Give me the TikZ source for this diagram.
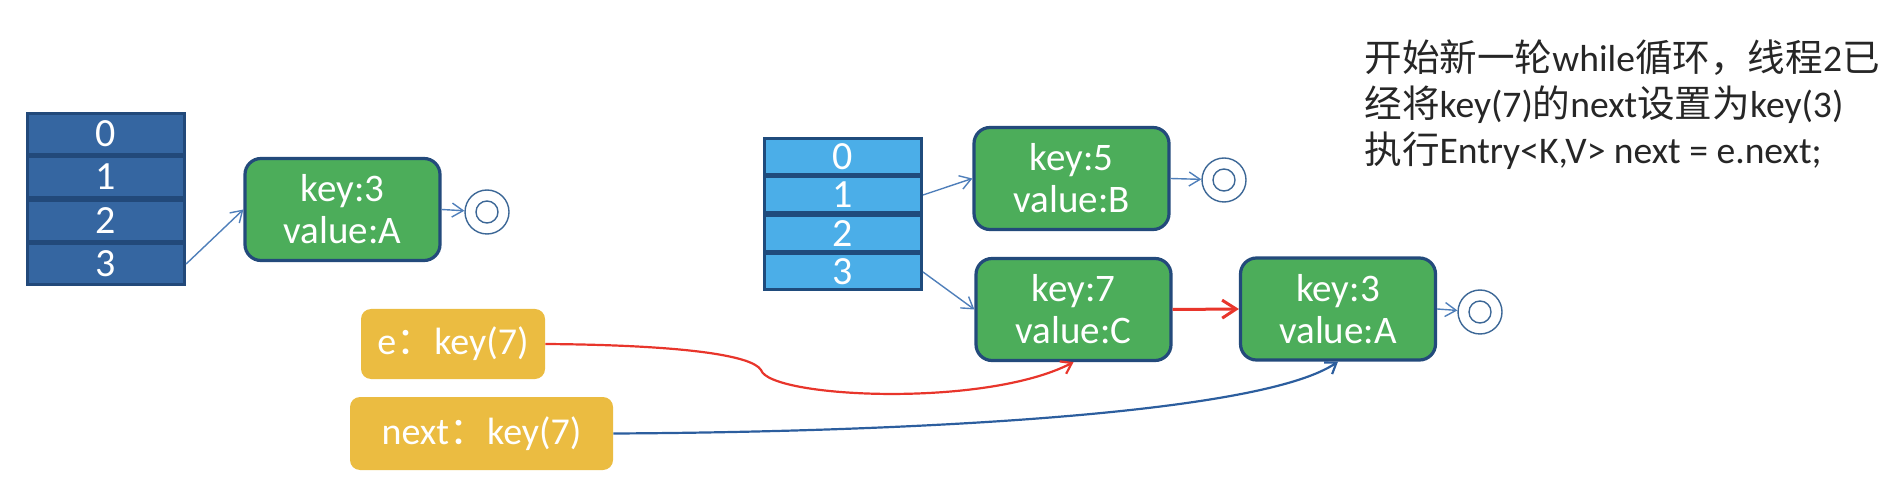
\documentclass[tikz,border=0pt]{standalone}
\usepackage{fontspec}
\setmainfont{Carlito}
\newfontfamily\cjk{Noto Sans CJK SC}
\usetikzlibrary{arrows.meta}
\definecolor{cellAfill}{HTML}{3566A1}
\definecolor{cellAdraw}{HTML}{22497A}
\definecolor{cellBfill}{HTML}{4BAEE8}
\definecolor{cellBdraw}{HTML}{1F4B7C}
\definecolor{greenfill}{HTML}{4CAD5A}
\definecolor{greendraw}{HTML}{234A7B}
\definecolor{yellowfill}{HTML}{EBBC41}
\definecolor{arrowblue}{HTML}{4F7FBA}
\definecolor{nullblue}{HTML}{3C6796}
\definecolor{redline}{HTML}{E8352B}
\definecolor{curveblue}{HTML}{2C5E9E}
\definecolor{txt}{HTML}{262626}
\tikzset{
  cellA/.style={rectangle, fill=cellAfill, draw=cellAdraw, line width=1.6pt, minimum width=78.5pt, minimum height=20.5pt, inner sep=0pt, text=white, font=\fontsize{20}{22}\selectfont},
  cellB/.style={rectangle, fill=cellBfill, draw=cellBdraw, line width=1.5pt, minimum width=78.5pt, minimum height=18pt, inner sep=0pt, text=white, font=\fontsize{20}{22}\selectfont},
  entry/.style={rectangle, rounded corners=8pt, fill=greenfill, draw=greendraw, line width=1.6pt, minimum width=97.5pt, minimum height=51pt, inner sep=0pt, text=white, align=center, font=\fontsize{19.5}{21}\selectfont},
  varbox/.style={rectangle, rounded corners=5pt, fill=yellowfill, inner sep=0pt, text=white, font=\fontsize{19}{21}\selectfont},
  nullc/.style={circle, draw=nullblue, line width=0.7pt, minimum size=22pt, inner sep=0pt,
     path picture={\draw[nullblue, line width=0.7pt] (path picture bounding box.center) circle (5.5pt);}},
  thinarr/.style={draw=arrowblue, line width=0.7pt, -{Straight Barb[length=5.5pt,width=7pt]}},
  redarr/.style={draw=redline, line width=1.5pt, -{Straight Barb[length=7pt,width=9pt]}},
  redcurve/.style={draw=redline, line width=1.1pt, -{Straight Barb[length=5pt,width=7pt]}},
  bluecurve/.style={draw=curveblue, line width=1.1pt, -{Straight Barb[length=5pt,width=7pt]}},
  note/.style={anchor=base west, inner sep=0pt, text=txt, font=\fontsize{18.8}{21}\selectfont}
}
\begin{document}
\begin{tikzpicture}[x=0.5pt, y=-0.5pt]
\useasboundingbox (0,0) rectangle (1898,496);

% left table
\node[cellA] (a0) at (106,134) {0};
\node[cellA] (a1) at (106,177) {1};
\node[cellA] (a2) at (106,221) {2};
\node[cellA] (a3) at (106,264) {3};

\node[entry] (kA) at (342.5,209.5) {key:3\\value:A};
\node[nullc] (nA) at (487,212) {};

% middle table
\node[cellB] (b0) at (843,156.5) {0};
\node[cellB] (b1) at (843,195) {1};
\node[cellB] (b2) at (843,233.5) {2};
\node[cellB] (b3) at (843,272) {3};

\node[entry] (k5) at (1071.5,178.5) {key:5\\value:B};
\node[nullc] (n5) at (1224,180) {};
\node[entry] (k7) at (1073.5,309.5) {key:7\\value:C};
\node[entry] (k3) at (1338,309) {key:3\\value:A};
\node[nullc] (n3) at (1480,312) {};

% variables
\node[varbox, minimum width=92pt, minimum height=35pt] (e) at (453,344) {e{\cjk ：}key(7)};
\node[varbox, minimum width=131.5pt, minimum height=36.5pt] (nx) at (481.5,433.5) {next{\cjk ：}key(7)};

% note
\node[note] (t1) at (1364,72) {{\cjk 开始新一轮}while{\cjk 循环，线程}2{\cjk 已}};
\node[note] (t2) at (1364,118) {{\cjk 经将}key(7){\cjk 的}next{\cjk 设置为}key(3)};
\node[note] (t3) at (1364,164) {{\cjk 执行}Entry<K,V> next = e.next;};

% connectors
\draw[thinarr] (a3.east) -- (kA.west);
\draw[thinarr] (kA.east) -- (nA);
\draw[thinarr] (b1.east) -- (k5.west);
\draw[thinarr] (k5.east) -- (n5);
\draw[thinarr] (b3.east) -- (k7.west);
\draw[redarr] (k7.east) -- (k3.west);
\draw[thinarr] (k3.east) -- (n3);

\coordinate (kink) at (761,370);
\draw[redcurve] (e.east) .. controls (680,345) and (752,355) .. (kink) .. controls (770,398) and (985,408) .. (k7.south);
\draw[bluecurve] (nx.east) .. controls (900,432) and (1260,415) .. (k3.south);
\end{tikzpicture}
\end{document}
